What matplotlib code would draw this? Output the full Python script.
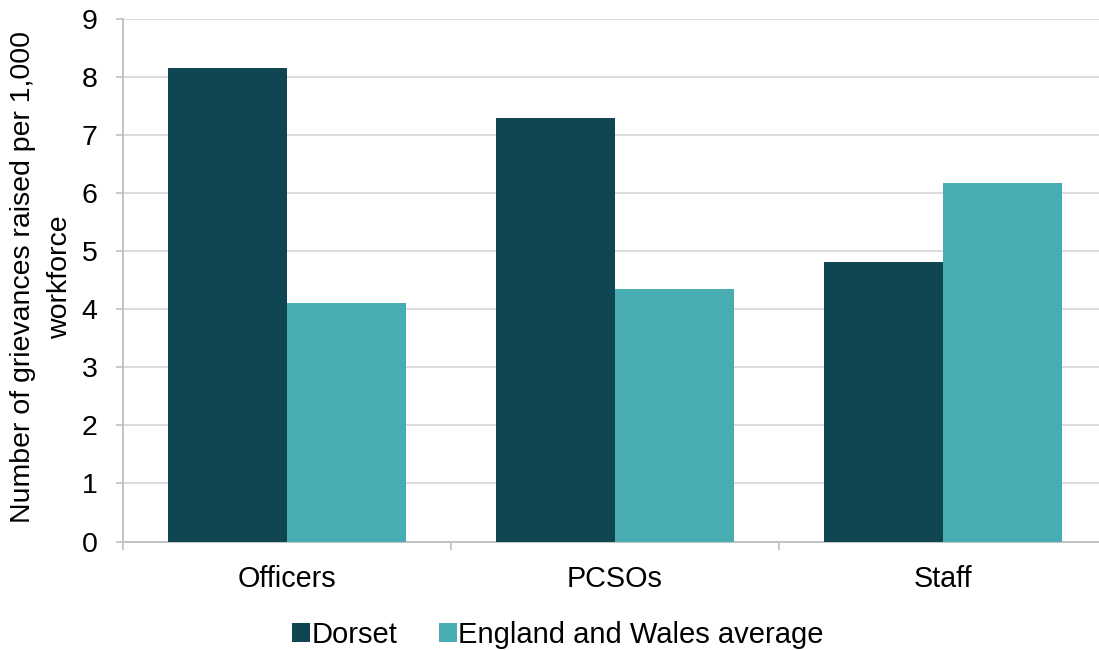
import numpy as np
import matplotlib
matplotlib.use("Agg")
from matplotlib import pyplot as plt

plt.rcParams['font.family'] = ['Liberation Sans', 'DejaVu Sans']

# data
categories = ['Officers', 'PCSOs', 'Staff']
dorset = [8.15, 7.29, 4.82]
england_wales = [4.11, 4.35, 6.17]
series_names = ['Dorset', 'England and Wales average']
y_ticks = [0, 1, 2, 3, 4, 5, 6, 7, 8, 9]

dark = '#0F4651'
light = '#48ADB2'
grid_col = '#D9D9D9'
axis_col = '#BFBFBF'

fig = plt.figure(figsize=(10.99, 6.5), dpi=100)
# axes runs a little past the right edge, as in the original crop
ax = fig.add_axes([122.7 / 1099, 1 - 541.5 / 650, (1107 - 122.7) / 1099, (541.5 - 19) / 650])

x = np.arange(len(categories))
w = 0.363
ax.bar(x - w / 2, dorset, w, color=dark, label=series_names[0], zorder=3)
ax.bar(x + w / 2, england_wales, w, color=light, label=series_names[1], zorder=3)

ax.set_xlim(-0.5, len(categories) - 0.5)
ax.set_ylim(0, 9)
ax.set_yticks(y_ticks)
ax.yaxis.grid(True, color=grid_col, linewidth=1.3, zorder=0)
ax.set_axisbelow(True)

# category labels at centres, tick marks at boundaries
ax.set_xticks(x)
ax.set_xticklabels(categories, fontsize=20.7)
ax.tick_params(axis='x', length=0, pad=17)
ax.set_xticks(np.arange(len(categories) + 1) - 0.5, minor=True)
ax.tick_params(axis='x', which='minor', length=6, color=axis_col, width=1.2)
ax.tick_params(axis='y', labelsize=20.5, length=5, color=axis_col, width=1.2, pad=13)

for s in ['top', 'right']:
    ax.spines[s].set_visible(False)
for s in ['left', 'bottom']:
    ax.spines[s].set_color(axis_col)
    ax.spines[s].set_linewidth(1.3)

fig.text(42 / 1099, 1 - 277 / 650, 'Number of grievances raised per 1,000\nworkforce',
         rotation=90, ha='center', va='center', multialignment='center',
         fontsize=20.5, linespacing=1.55)

leg = fig.legend(loc='center', bbox_to_anchor=(558 / 1099, 1 - 635 / 650), ncol=2,
                 frameon=False, fontsize=21, handlelength=0.63, handleheight=0.63,
                 handletextpad=0.05, columnspacing=1.4, borderpad=0)

fig.savefig('out.png', dpi=100)
